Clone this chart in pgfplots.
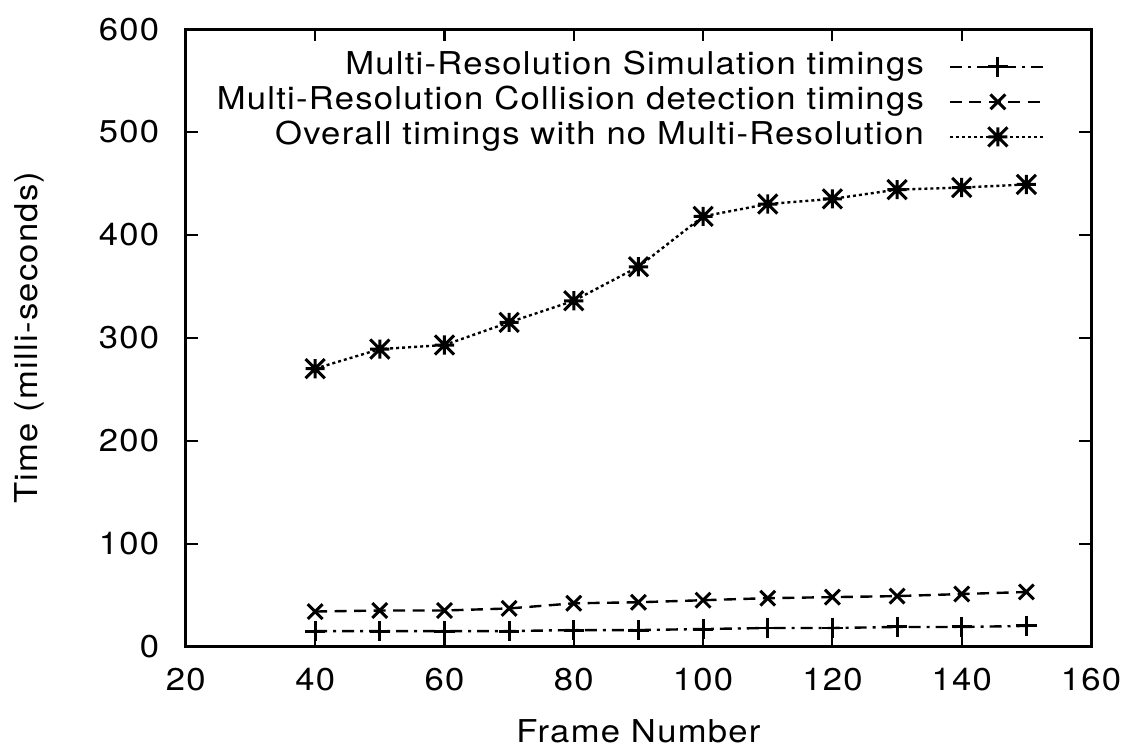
\documentclass[border=0pt]{standalone}
\usepackage{fontspec}
\setmainfont{TeX Gyre Heros}
\newfontfamily\gpfont[FakeStretch=1.1,LetterSpace=4]{TeX Gyre Heros}
\usepackage{pgfplots}
\pgfplotsset{compat=1.18}

% gnuplot point type 3: plus and cross on top of each other
\pgfdeclareplotmark{gpstar}{%
  \pgfpathmoveto{\pgfqpoint{-\pgfplotmarksize}{0pt}}%
  \pgfpathlineto{\pgfqpoint{\pgfplotmarksize}{0pt}}%
  \pgfpathmoveto{\pgfqpoint{0pt}{-\pgfplotmarksize}}%
  \pgfpathlineto{\pgfqpoint{0pt}{\pgfplotmarksize}}%
  \pgfpathmoveto{\pgfqpoint{-\pgfplotmarksize}{-\pgfplotmarksize}}%
  \pgfpathlineto{\pgfqpoint{\pgfplotmarksize}{\pgfplotmarksize}}%
  \pgfpathmoveto{\pgfqpoint{-\pgfplotmarksize}{\pgfplotmarksize}}%
  \pgfpathlineto{\pgfqpoint{\pgfplotmarksize}{-\pgfplotmarksize}}%
  \pgfusepathqstroke}

\begin{document}
\begin{tikzpicture}
\useasboundingbox (-62pt,-35.3pt) rectangle (316pt,215.7pt);
\begin{axis}[
  scale only axis,
  width=302pt, height=206pt,
  xmin=20, xmax=160, ymin=0, ymax=600,
  xtick={20,40,...,160}, ytick={0,100,...,600},
  tick align=inside, major tick length=4pt,
  axis line style={line width=1pt},
  tick style={line width=0.7pt, black},
  font=\gpfont\fontsize{10.5}{12}\selectfont,
  /pgf/number format/assume math mode=true,
  yticklabel style={inner sep=0pt, anchor=east, xshift=-8.7pt},
  xticklabel style={inner sep=0pt, anchor=north, yshift=-7pt},
  xlabel={Frame Number}, ylabel={Time (milli-seconds)},
  xlabel style={at={(axis description cs:0.5,-0.155)}, anchor=base, inner sep=0pt},
  ylabel style={at={(axis description cs:-0.156,0.5)}, anchor=south, inner sep=0pt},
  legend style={draw=none, fill=none, at={(0.962,0.974)}, anchor=north east,
    row sep=1.7pt, column sep=8.3pt,
    nodes={inner sep=0pt, text height=7.5pt, text depth=2.5pt},
    font=\gpfont\fontsize{10.5}{12}\selectfont},
  legend cell align=right, legend plot pos=right,
  legend image code/.code={
    \draw[mark repeat=2,mark phase=2] plot coordinates {(0pt,0pt) (16pt,0pt) (32pt,0pt)};},
  every axis plot/.append style={black, line width=0.8pt, mark options={solid, line width=1pt}},
]
\addplot[dash pattern=on 4pt off 2pt on 1pt off 2pt, mark=+, mark size=3.4pt] coordinates {
(40,15) (50,15) (60,15) (70,15) (80,16) (90,16) (100,17) (110,18) (120,18) (130,19) (140,19) (150,20)};
\addlegendentry{Multi-Resolution Simulation timings}
\addplot[dash pattern=on 4pt off 2.5pt, mark=x, mark size=3.5pt] coordinates {
(40,34) (50,35) (60,35) (70,37) (80,42) (90,43) (100,45) (110,47) (120,48) (130,49) (140,51) (150,53)};
\addlegendentry{Multi-Resolution Collision detection timings}
\addplot[dash pattern=on 1pt off 1pt, mark=gpstar, mark size=3.2pt] coordinates {
(40,270) (50,289) (60,293) (70,315) (80,336) (90,369) (100,418) (110,430) (120,435) (130,444) (140,446) (150,449)};
\addlegendentry{Overall timings with no Multi-Resolution}
\end{axis}
\end{tikzpicture}
\end{document}
